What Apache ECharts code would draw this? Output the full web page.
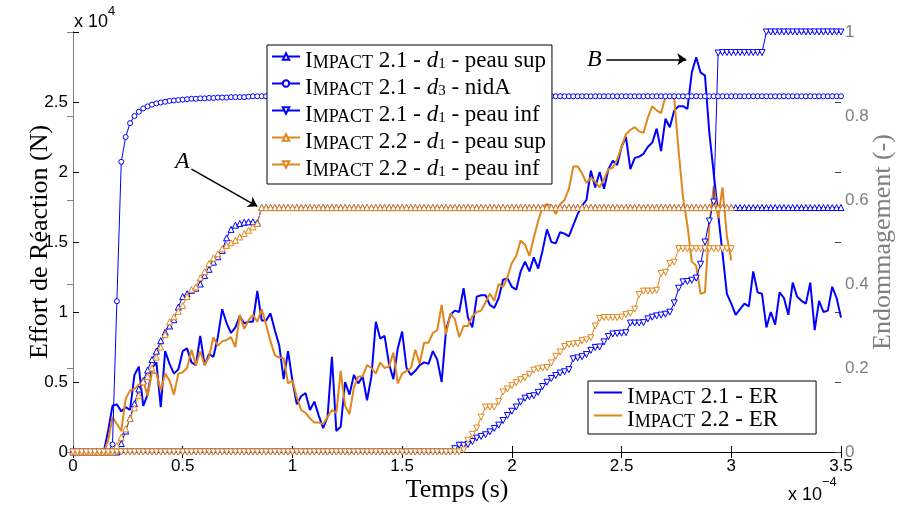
<!DOCTYPE html>
<html><head><meta charset="utf-8">
<script src="https://cdn.jsdelivr.net/npm/echarts@6.0.0/dist/echarts.min.js"></script>
<style>html,body{margin:0;padding:0;background:#fff}#c{width:901px;height:510px}</style>
</head><body><div id="c"></div>
<script>
// time grid step, in units of 1e-4 s
const TIME_STEP = 0.02;
const xTickLabels = ['0','0.5','1','1.5','2','2.5','3','3.5'];

// Effort de réaction (x 1e4 N)
const erImpact21 = [0,0,0,0,0,0,0,0,0.15,0.33,
0.34,0.29,0.32,0.30,0.55,0.61,0.33,0.41,0.60,0.64,
0.32,0.72,0.63,0.56,0.59,0.72,0.74,0.64,0.62,0.83,
0.62,0.70,0.68,0.82,1.02,0.92,0.85,0.89,0.97,0.92,
0.93,0.93,1.15,0.94,0.94,0.99,0.87,0.76,0.52,0.72,
0.51,0.34,0.40,0.42,0.30,0.36,0.26,0.17,0.25,0.68,
0.15,0.18,0.50,0.41,0.55,0.49,0.54,0.37,0.54,0.93,
0.81,0.83,0.63,0.52,0.74,0.86,0.60,0.55,0.58,0.62,
0.64,0.63,0.72,0.66,0.50,0.87,0.98,1.01,1.00,1.17,
0.96,0.89,1.11,1.12,1.12,1.05,1.03,1.10,1.23,1.24,
1.18,1.16,1.29,1.36,1.29,1.39,1.31,1.44,1.59,1.50,
1.49,1.57,1.56,1.54,1.62,1.70,1.76,1.80,2.01,1.89,
2.00,1.88,2.02,2.08,2.05,2.18,2.25,2.02,2.10,2.11,
2.13,2.18,2.21,2.31,2.15,2.38,2.32,2.44,2.47,2.47,
2.45,2.71,2.82,2.71,2.69,2.28,1.99,1.70,1.42,1.13,
1.06,0.98,1.02,1.06,1.04,1.29,1.14,1.13,0.89,1.00,
0.91,1.14,1.10,0.98,1.21,1.11,1.08,1.06,1.21,0.87,
1.08,1.00,1.01,1.18,1.10,0.96];
const erImpact22 = [0,0,0,0,0,0,0,0,0.08,0.25,
0.20,0.15,0.38,0.44,0.45,0.48,0.51,0.40,0.57,0.56,
0.44,0.56,0.51,0.41,0.56,0.57,0.60,0.73,0.62,0.72,
0.62,0.68,0.82,0.76,0.79,0.80,0.82,0.75,0.98,0.88,
0.94,0.98,0.93,1.02,0.91,0.79,0.69,0.675,0.67,0.49,
0.51,0.39,0.30,0.28,0.24,0.21,0.21,0.20,0.25,0.30,
0.28,0.58,0.33,0.27,0.46,0.54,0.54,0.62,0.60,0.56,
0.64,0.60,0.61,0.71,0.49,0.56,0.58,0.60,0.73,0.63,
0.78,0.78,0.85,0.87,1.05,0.84,0.99,0.95,0.82,0.90,
0.90,0.97,1.00,1.01,1.07,1.13,1.08,1.20,1.18,1.25,
1.35,1.40,1.51,1.48,1.40,1.53,1.65,1.75,1.77,1.76,
1.70,1.77,1.80,1.88,2.04,2.04,1.99,1.92,1.96,1.93,
1.89,1.95,2.02,2.03,2.09,2.18,2.27,2.30,2.32,2.29,
2.28,2.39,2.47,2.44,2.42,2.54,2.55,2.52,2.15,1.82,
1.62,1.36,1.33,1.13,1.14,1.62,1.90,1.67,1.89,1.54,
1.37];

// Endommagement (-)
const d1Sup21 = [0,0,0,0,0,0,0,0,0,0,
0,0.02,0.05,0.08,0.115,0.15,0.17,0.195,0.22,0.24,
0.265,0.285,0.30,0.315,0.345,0.37,0.377,0.385,0.39,0.40,
0.42,0.435,0.452,0.465,0.48,0.51,0.53,0.54,0.544,0.547,
0.548,0.548,0.546,.582,.582,.582,.582,.582,.582,.582,
.582,.582,.582,.582,.582,.582,.582,.582,.582,.582,
.582,.582,.582,.582,.582,.582,.582,.582,.582,.582,
.582,.582,.582,.582,.582,.582,.582,.582,.582,.582,
.582,.582,.582,.582,.582,.582,.582,.582,.582,.582,
.582,.582,.582,.582,.582,.582,.582,.582,.582,.582,
.582,.582,.582,.582,.582,.582,.582,.582,.582,.582,
.582,.582,.582,.582,.582,.582,.582,.582,.582,.582,
.582,.582,.582,.582,.582,.582,.582,.582,.582,.582,
.582,.582,.582,.582,.582,.582,.582,.582,.582,.582,
.582,.582,.582,.582,.582,.582,.582,.582,.582,.582,
.582,.582,.582,.582,.582,.582,.582,.582,.582,.582,
.582,.582,.582,.582,.582,.582,.582,.582,.582,.582,
.582,.582,.582,.582,.582,.582];
const d3NidA21 = [0,0,0,0,0,0,0,0,0,0.018,
0.359,0.691,0.75,0.783,0.80,0.81,0.818,0.823,0.827,0.830,
0.832,0.834,0.836,0.837,0.838,0.839,0.840,0.841,0.841,0.842,
0.842,0.843,0.843,0.844,0.844,0.844,0.845,0.845,0.845,0.845,
0.846,.847,.847,.847,.847,.847,.847,.847,.847,.847,
.847,.847,.847,.847,.847,.847,.847,.847,.847,.847,
.847,.847,.847,.847,.847,.847,.847,.847,.847,.847,
.847,.847,.847,.847,.847,.847,.847,.847,.847,.847,
.847,.847,.847,.847,.847,.847,.847,.847,.847,.847,
.847,.847,.847,.847,.847,.847,.847,.847,.847,.847,
.847,.847,.847,.847,.847,.847,.847,.847,.847,.847,
.847,.847,.847,.847,.847,.847,.847,.847,.847,.847,
.847,.847,.847,.847,.847,.847,.847,.847,.847,.847,
.847,.847,.847,.847,.847,.847,.847,.847,.847,.847,
.847,.847,.847,.847,.847,.847,.847,.847,.847,.847,
.847,.847,.847,.847,.847,.847,.847,.847,.847,.847,
.847,.847,.847,.847,.847,.847,.847,.847,.847,.847,
.847,.847,.847,.847,.847,.847];
const d1Inf21 = [0,0,0,0,0,0,0,0,0,0,
0,0,0,0,0,0,0,0,0,0,
0,0,0,0,0,0,0,0,0,0,
0,0,0,0,0,0,0,0,0,0,
0,0,0,0,0,0,0,0,0,0,
0,0,0,0,0,0,0,0,0,0,
0,0,0,0,0,0,0,0,0,0,
0,0,0,0,0,0,0,0,0,0,
0,0,0,0,0,0,0,0.008,0.016,0.016,
0.018,0.025,0.033,0.037,0.041,0.048,0.056,0.064,0.075,0.087,
0.097,0.107,0.119,0.128,0.132,0.134,0.142,0.156,0.166,0.175,
0.182,0.188,0.191,0.196,0.222,0.224,0.227,0.232,0.242,0.249,
0.25,0.262,0.275,0.281,0.282,0.283,0.284,0.307,0.307,0.307,
0.308,0.317,0.321,0.324,0.326,0.328,0.333,0.355,0.39,0.405,
0.406,0.409,0.414,0.447,0.50,0.55,0.595,0.95,0.951,0.951,
0.951,0.951,0.951,0.951,0.951,0.951,0.951,0.951,1,1,
1,1,1,1,1,1,1,1,1,1,
1,1,1,1,1,1];
const d1Sup22 = [0,0,0,0,0,0,0,0,0,0,
0.015,0.035,0.055,0.08,0.105,0.135,0.167,0.18,0.20,0.226,
0.25,0.28,0.31,0.322,0.335,0.349,0.37,0.387,0.393,0.415,
0.43,0.449,0.462,0.472,0.484,0.492,0.498,0.504,0.512,0.52,
0.528,0.536,0.544,.582,.582,.582,.582,.582,.582,.582,
.582,.582,.582,.582,.582,.582,.582,.582,.582,.582,
.582,.582,.582,.582,.582,.582,.582,.582,.582,.582,
.582,.582,.582,.582,.582,.582,.582,.582,.582,.582,
.582,.582,.582,.582,.582,.582,.582,.582,.582,.582,
.582,.582,.582,.582,.582,.582,.582,.582,.582,.582,
.582,.582,.582,.582,.582,.582,.582,.582,.582,.582,
.582,.582,.582,.582,.582,.582,.582,.582,.582,.582,
.582,.582,.582,.582,.582,.582,.582,.582,.582,.582,
.582,.582,.582,.582,.582,.582,.582,.582,.582,.582,
.582,.582,.582,.582,.582,.582,.582,.582,.582,.582,
.582];
const d1Inf22 = [0,0,0,0,0,0,0,0,0,0,
0,0,0,0,0,0,0,0,0,0,
0,0,0,0,0,0,0,0,0,0,
0,0,0,0,0,0,0,0,0,0,
0,0,0,0,0,0,0,0,0,0,
0,0,0,0,0,0,0,0,0,0,
0,0,0,0,0,0,0,0,0,0,
0,0,0,0,0,0,0,0,0,0,
0,0,0,0,0,0,0,0,0,0.005,
0.028,0.042,0.057,0.083,0.107,0.107,0.107,0.12,0.143,0.15,
0.158,0.165,0.172,0.177,0.185,0.195,0.198,0.20,0.201,0.212,
0.228,0.238,0.251,0.256,0.257,0.258,0.265,0.267,0.272,0.30,
0.318,0.32,0.32,0.32,0.32,0.321,0.327,0.33,0.34,0.375,
0.383,0.383,0.383,0.385,0.425,0.428,0.449,0.452,0.484,0.484,
0.484,0.484,0.484,0.484,0.484,0.484,0.484,0.484,0.484,0.484,
0.484];

// annotation arrows [from, to] in data units (x 1e-4 s, x 1e4 N)
const arrowA = [[0.54, 2.02], [0.84, 1.755]];
const arrowB = [[2.43, 2.805], [2.795, 2.805]];

const BLUE = '#0000ff', ORANGE = '#e0861a', GRAY = '#808080';
const SERIF = 'Liberation Serif', SANS = 'Liberation Sans';

const toPairs = vals => vals.map((v, i) => [+(i * TIME_STEP).toFixed(2), v]);

const legendRich = {
  c: {fontFamily: SERIF, fontSize: 23, lineHeight: 31, verticalAlign: 'bottom', color: '#000'},
  s: {fontFamily: SERIF, fontSize: 18, lineHeight: 26, verticalAlign: 'bottom', color: '#000'},
  t: {fontFamily: SERIF, fontSize: 23, lineHeight: 31, verticalAlign: 'bottom', color: '#000'},
  i: {fontFamily: SERIF, fontSize: 23, lineHeight: 31, verticalAlign: 'bottom', fontStyle: 'italic', color: '#000'},
  b: {fontFamily: SERIF, fontSize: 15, lineHeight: 15, verticalAlign: 'bottom', color: '#000'}
};
function legendText(name) {
  // name like "Impact 2.1 - d1 - peau sup" or "Impact 2.1 - ER"
  const parts = name.replace('Impact ', '').split(' - ');
  let s = '{c|I}{s|MPACT}{t| ' + parts[0] + ' - }';
  if (parts.length === 3) {
    s += '{i|d}{b|' + parts[1].slice(1) + '}{t| - ' + parts[2] + '}';
  } else {
    s += '{t|' + parts[1] + '}';
  }
  return s;
}

const damageSeries = [
  {name: 'Impact 2.1 - d1 - peau sup', vals: d1Sup21, color: BLUE, symbol: 'triangle', rot: 0, size: 6},
  {name: 'Impact 2.1 - d3 - nidA', vals: d3NidA21, color: BLUE, symbol: 'circle', rot: 0, size: 5},
  {name: 'Impact 2.1 - d1 - peau inf', vals: d1Inf21, color: BLUE, symbol: 'triangle', rot: 180, size: 6},
  {name: 'Impact 2.2 - d1 - peau sup', vals: d1Sup22, color: ORANGE, symbol: 'triangle', rot: 0, size: 6},
  {name: 'Impact 2.2 - d1 - peau inf', vals: d1Inf22, color: ORANGE, symbol: 'triangle', rot: 180, size: 6}
];

const series = [
  {name: 'Impact 2.1 - ER', type: 'line', xAxisIndex: 0, yAxisIndex: 0, data: toPairs(erImpact21),
   symbol: 'none', color: BLUE, lineStyle: {width: 2, color: BLUE}, clip: false,
   markLine: {silent: true, symbol: ['none', 'arrow'], symbolSize: 9, label: {show: false},
     lineStyle: {color: '#000', width: 1.5, type: 'solid'},
     data: [[{coord: arrowA[0]}, {coord: arrowA[1]}], [{coord: arrowB[0]}, {coord: arrowB[1]}]]}},
  {name: 'Impact 2.2 - ER', type: 'line', xAxisIndex: 0, yAxisIndex: 0, data: toPairs(erImpact22),
   symbol: 'none', color: ORANGE, lineStyle: {width: 2, color: ORANGE}, clip: false}
];
damageSeries.forEach(d => series.push({
  name: d.name, type: 'line', xAxisIndex: 0, yAxisIndex: 1, data: toPairs(d.vals),
  symbol: d.symbol, symbolSize: d.size, symbolRotate: d.rot, showAllSymbol: true, clip: false,
  color: d.color, lineStyle: {width: 1, color: d.color},
  itemStyle: {color: '#ffffff', borderColor: d.color, borderWidth: 1}
}));

const chart = echarts.init(document.getElementById('c'), null, {renderer: 'canvas'});
chart.setOption({
  animation: false,
  backgroundColor: '#fff',
  grid: {left: 73, right: 60, top: 32, bottom: 58, outerBoundsMode: 'none', containLabel: false},
  xAxis: [
    {type: 'value', position: 'bottom', min: 0, max: 3.5, interval: 0.5,
     axisLine: {show: true, lineStyle: {color: '#000', width: 1}},
     axisTick: {show: true, inside: true, length: 6, lineStyle: {color: '#000'}},
     splitLine: {show: false},
     axisLabel: {color: '#000', fontFamily: SANS, fontSize: 17, margin: 6,
       formatter: (v) => xTickLabels[Math.round(v / 0.5)]},
     name: 'Temps (s)', nameLocation: 'middle', nameGap: 25, nameMoveOverlap: false,
     nameTextStyle: {fontFamily: SERIF, fontSize: 26, color: '#000'}},
    {type: 'value', position: 'top', min: 0, max: 3.5, interval: 0.5,
     axisLine: {show: true, lineStyle: {color: '#000', width: 1}},
     axisTick: {show: true, inside: true, length: 6, lineStyle: {color: '#000'}},
     splitLine: {show: false}, axisLabel: {show: false}}
  ],
  yAxis: [
    {type: 'value', position: 'left', min: 0, max: 3, interval: 0.5,
     axisLine: {show: true, lineStyle: {color: '#000', width: 1}},
     axisTick: {show: true, inside: true, length: 6, lineStyle: {color: '#000'}},
     splitLine: {show: false},
     axisLabel: {color: '#000', fontFamily: SANS, fontSize: 17, margin: 5,
       formatter: (v) => v === 3 ? '' : String(v)},
     name: 'Effort de Réaction (N)', nameLocation: 'middle', nameGap: 20, nameRotate: 90, nameMoveOverlap: false,
     nameTextStyle: {fontFamily: SERIF, fontSize: 26, color: '#000'}},
    {type: 'value', position: 'right', min: 0, max: 1, interval: 0.2,
     axisLine: {show: true, lineStyle: {color: GRAY, width: 1}},
     axisTick: {show: true, inside: true, length: 6, lineStyle: {color: GRAY}},
     splitLine: {show: false},
     axisLabel: {color: GRAY, fontFamily: SANS, fontSize: 17, margin: 4, formatter: (v) => String(+v.toFixed(1))},
     name: 'Endommagement (-)', nameLocation: 'middle', nameGap: 29, nameRotate: 90, nameMoveOverlap: false,
     nameTextStyle: {fontFamily: SERIF, fontSize: 26, color: GRAY}},
    {type: 'value', position: 'right', min: 0, max: 3, interval: 0.5,
     axisLine: {show: false},
     axisTick: {show: true, inside: true, length: 6, lineStyle: {color: '#444'}},
     splitLine: {show: false}, axisLabel: {show: false}}
  ],
  legend: [
    {data: damageSeries.map(d => d.name), orient: 'vertical', left: 267, top: 45,
     itemWidth: 28, itemHeight: 8, itemGap: 4, padding: [4, 6, 4, 4],
     backgroundColor: '#fff', borderColor: '#000', borderWidth: 1, borderRadius: 0,
     formatter: legendText, textStyle: {rich: legendRich}, selectedMode: false},
    {data: ['Impact 2.1 - ER', 'Impact 2.2 - ER'], orient: 'vertical', left: 588, top: 381,
     icon: 'rect', itemWidth: 28, itemHeight: 2, itemGap: 0, padding: [4, 38, 3, 6],
     backgroundColor: '#fff', borderColor: '#000', borderWidth: 1, borderRadius: 0,
     formatter: legendText, textStyle: {rich: legendRich}, selectedMode: false}
  ],
  graphic: [
    {type: 'text', left: 74, top: 5, style: {text: '{a|x 10}{b|4}', rich: {
      a: {fontFamily: SANS, fontSize: 18, lineHeight: 26, verticalAlign: 'bottom', fill: '#000'},
      b: {fontFamily: SANS, fontSize: 13, lineHeight: 13, verticalAlign: 'top', fill: '#000'}}}},
    {type: 'text', left: 788, top: 476, style: {text: '{a|x 10}{b|−4}', rich: {
      a: {fontFamily: SANS, fontSize: 18, lineHeight: 28, verticalAlign: 'bottom', fill: '#000'},
      b: {fontFamily: SANS, fontSize: 13, lineHeight: 13, verticalAlign: 'top', fill: '#000'}}}},
    {type: 'text', left: 175, top: 150, style: {text: 'A', fontFamily: SERIF, fontSize: 24, fontStyle: 'italic', fill: '#000'}},
    {type: 'text', left: 587, top: 48, style: {text: 'B', fontFamily: SERIF, fontSize: 24, fontStyle: 'italic', fill: '#000'}}
  ],
  series: series
});
</script></body></html>
